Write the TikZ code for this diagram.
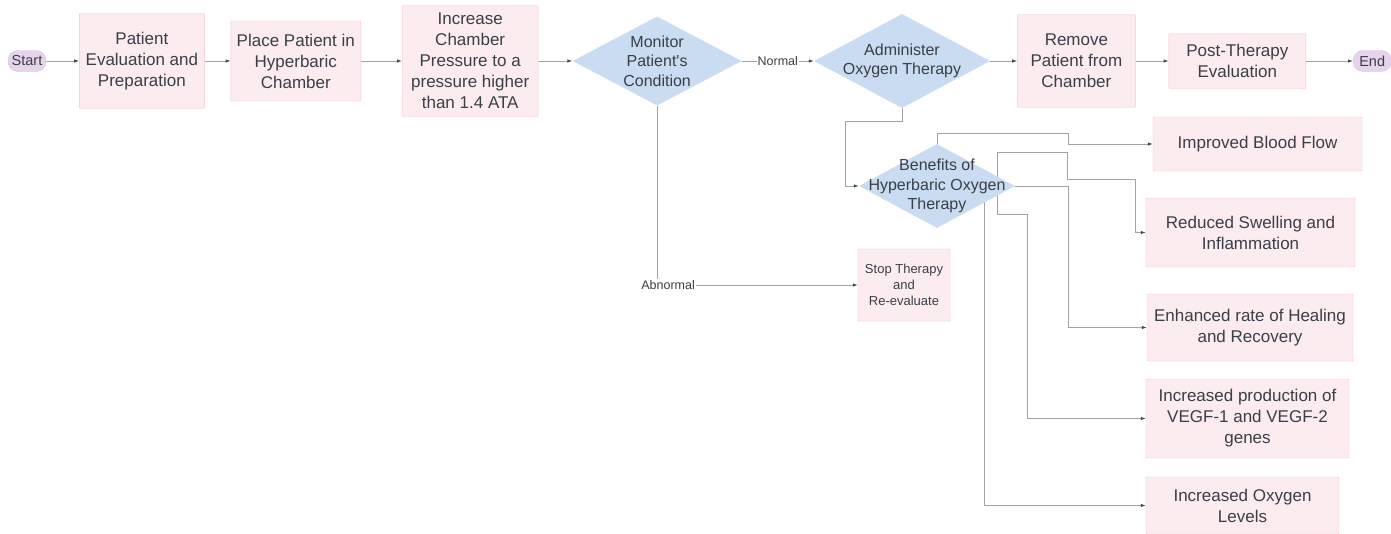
\documentclass[tikz,border=0pt]{standalone}
\usepackage{fontspec}
\setmainfont{Liberation Sans}
\usetikzlibrary{positioning,arrows.meta,shapes.geometric}
\definecolor{boxpink}{RGB}{252,236,239}
\definecolor{boxline}{RGB}{245,196,208}
\definecolor{diablue}{RGB}{201,220,242}
\definecolor{termfill}{RGB}{229,212,235}
\definecolor{termline}{RGB}{214,192,224}
\definecolor{txtgray}{RGB}{58,63,71}
\definecolor{linegray}{RGB}{160,164,170}
\definecolor{tipgray}{RGB}{70,75,82}
\pgfdeclarelayer{bg}
\pgfsetlayers{bg,main}

\begin{document}
\begin{tikzpicture}[x=1pt, y=-1pt, inner sep=0pt, text=txtgray,
	term/.style={draw=termline, fill=termfill, rounded corners=10pt, minimum width=38pt, minimum height=21pt, font=\fontsize{14.5}{17}\selectfont},
	bx/.style={draw=boxline, fill=boxpink, rounded corners=1pt, align=center, font=\fontsize{17}{21}\selectfont},
	dia/.style={diamond, fill=diablue, inner sep=0pt},
	dtxt/.style={align=center, text=txtgray, font=\fontsize{16}{19.5}\selectfont},
	lbl/.style={fill=white, inner sep=1pt, font=\fontsize{12.5}{15}\selectfont},
	cn/.style={draw=linegray, line width=0.8pt, -{Latex[length=5pt, width=3.5pt, color=tipgray]}}]
	\useasboundingbox (0,0) rectangle (1391,533);

	% main row
	\node[term] (start) at (27,61) {Start};
	\node[bx, minimum width=125pt, minimum height=95pt, right=33pt of start] (eval) {Patient\\Evaluation and\\Preparation};
	\node[bx, minimum width=130pt, minimum height=80pt, right=26pt of eval] (place) {Place Patient in\\Hyperbaric\\Chamber};
	\node[bx, minimum width=136pt, minimum height=111pt, right=41pt of place] (press) {Increase\\Chamber\\Pressure to a\\pressure higher\\than 1.4 ATA};
	\node[dia, minimum width=169pt, minimum height=89pt, right=34pt of press, label={[dtxt]center:{Monitor\\Patient\textquotesingle s\\Condition}}] (mon) {};
	\node[dia, minimum width=176pt, minimum height=94pt, right=72pt of mon, label={[dtxt]center:{Administer\\Oxygen Therapy}}] (adm) {};
	\node[bx, minimum width=118pt, minimum height=93pt, right=27pt of adm] (rem) {Remove\\Patient from\\Chamber};
	\node[bx, minimum width=137pt, minimum height=55pt, right=33pt of rem] (post) {Post-Therapy\\Evaluation};
	\node[term, right=47pt of post] (finish) {End};

	% benefits
	\node[dia, minimum width=156pt, minimum height=84pt, label={[dtxt]center:{Benefits of\\Hyperbaric Oxygen\\Therapy}}] (ben) at (937,186) {};
	\node[bx, minimum width=209pt, minimum height=54pt] (blood) at (1257.5,144) {Improved Blood Flow};
	\node[bx, minimum width=209pt, minimum height=69pt] (swell) at (1250.5,232.5) {Reduced Swelling and\\Inflammation};
	\node[bx, minimum width=206pt, minimum height=67pt] (heal) at (1250,327.5) {Enhanced rate of Healing\\and Recovery};
	\node[bx, minimum width=203pt, minimum height=79pt] (vegf) at (1247.5,418.5) {Increased production of\\VEGF-1 and VEGF-2\\genes};
	\node[bx, minimum width=193pt, minimum height=57pt] (oxy) at (1242.5,505.5) {Increased Oxygen\\Levels};
	\node[bx, minimum width=92pt, minimum height=72pt, font=\fontsize{13}{16}\selectfont] (stop) at (904,285) {Stop Therapy\\and\\Re-evaluate};

	\begin{pgfonlayer}{bg}
		\draw[cn] (start) -- (eval);
		\draw[cn] (eval) -- (place);
		\draw[cn] (place) -- (press);
		\draw[cn] (press) -- (mon.west);
		\draw[cn] (mon.east) -- node[lbl] {Normal} (adm.west);
		\draw[cn] (adm.east) -- (rem);
		\draw[cn] (rem) -- (post);
		\draw[cn] (post) -- (finish);
		\draw[cn] (mon.south) |- node[pos=0.5, lbl, xshift=11pt] {Abnormal} (stop.west);
		\draw[cn] (adm.south) -- ++(0,13) -| ([xshift=-13pt]ben.west) -- (ben.west);
		\draw[cn] (ben.north) -- ++(0,-10) -| ([xshift=-84pt]blood.west) -- (blood.west);
		\draw[cn] ([xshift=60pt]ben.center) -- ++(0,-34) -| ++(70,27) -| ([xshift=-10pt]swell.west) -- (swell.west);
		\draw[cn] (ben.east) -| ([xshift=-78pt]heal.west) -- (heal.west);
		\draw[cn] ([xshift=60pt]ben.center) -- ++(0,28) -| ([xshift=-118pt]vegf.west) -- (vegf.west);
		\draw[cn] ([xshift=47pt]ben.center) |- (oxy.west);
	\end{pgfonlayer}
\end{tikzpicture}
\end{document}
